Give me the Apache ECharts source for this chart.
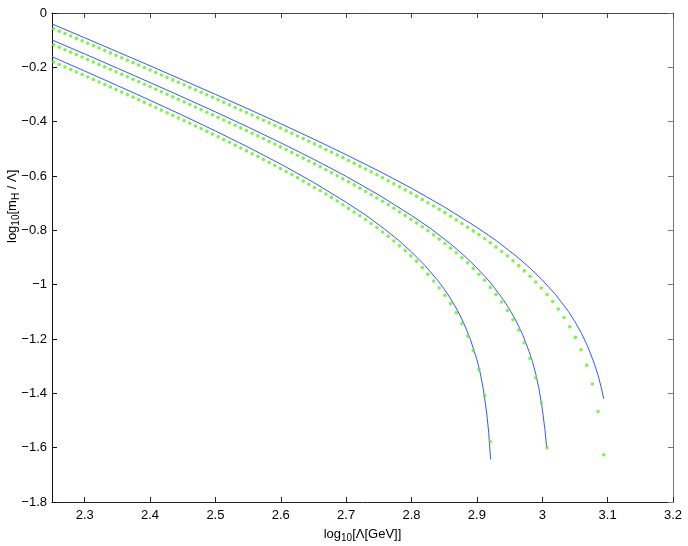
<!DOCTYPE html>
<html><head><meta charset="utf-8">
<script src="https://cdn.jsdelivr.net/npm/echarts@6/dist/echarts.min.js"></script>
<style>html,body{margin:0;padding:0;background:#fff}#c{width:688px;height:546px}</style>
</head><body><div id="c"></div>
<script>
// x positions (log10 Lambda) of the dotted (green) samples
const xs = [2.2526,2.2613,2.2699,2.2786,2.2873,2.2960,2.3046,2.3133,2.3220,2.3307,
2.3393,2.3480,2.3567,2.3654,2.3740,2.3827,2.3914,2.4001,2.4087,2.4174,
2.4261,2.4348,2.4434,2.4521,2.4608,2.4695,2.4781,2.4868,2.4955,2.5041,
2.5128,2.5215,2.5302,2.5388,2.5475,2.5562,2.5649,2.5735,2.5822,2.5909,
2.5996,2.6082,2.6169,2.6256,2.6343,2.6429,2.6516,2.6603,2.6690,2.6776,
2.6863,2.6950,2.7036,2.7123,2.7210,2.7297,2.7383,2.7470,2.7557,2.7644,
2.7730,2.7817,2.7904,2.7991,2.8077,2.8164,2.8251,2.8338,2.8424,2.8511,
2.8598,2.8684,2.8771,2.8858,2.8945,2.9031,2.9118,2.9205,2.9292,2.9379,
2.9466,2.9552,2.9639,2.9726,2.9813,2.9899,2.9986,3.0073,3.0160,3.0246,
3.0333,3.0420,3.0507,3.0593,3.0680,3.0767,3.0854,3.0940];

const green1 = [-0.0580,-0.0669,-0.0757,-0.0846,-0.0935,-0.1024,-0.1112,-0.1202,-0.1291,-0.1381,
-0.1469,-0.1559,-0.1649,-0.1739,-0.1828,-0.1918,-0.2008,-0.2099,-0.2189,-0.2280,
-0.2371,-0.2462,-0.2552,-0.2644,-0.2736,-0.2828,-0.2919,-0.3011,-0.3104,-0.3195,
-0.3289,-0.3382,-0.3476,-0.3569,-0.3662,-0.3757,-0.3853,-0.3947,-0.4043,-0.4139,
-0.4234,-0.4330,-0.4428,-0.4526,-0.4624,-0.4721,-0.4819,-0.4920,-0.5022,-0.5122,
-0.5224,-0.5322,-0.5427,-0.5532,-0.5638,-0.5744,-0.5848,-0.5954,-0.6064,-0.6176,
-0.6287,-0.6399,-0.6511,-0.6623,-0.6742,-0.6863,-0.6984,-0.7106,-0.7226,-0.7347,
-0.7483,-0.7616,-0.7751,-0.7886,-0.8021,-0.8158,-0.8308,-0.8457,-0.8617,-0.8777,
-0.8947,-0.9119,-0.9300,-0.9493,-0.9688,-0.9905,-1.0124,-1.0363,-1.0622,-1.0899,
-1.1208,-1.1551,-1.1941,-1.2399,-1.2963,-1.3659,-1.4670,-1.6260];

const green2 = [-0.1173,-0.1262,-0.1351,-0.1441,-0.1531,-0.1622,-0.1711,-0.1801,-0.1892,-0.1983,
-0.2073,-0.2165,-0.2256,-0.2347,-0.2438,-0.2531,-0.2623,-0.2715,-0.2806,-0.2899,
-0.2993,-0.3086,-0.3179,-0.3272,-0.3366,-0.3461,-0.3555,-0.3651,-0.3746,-0.3841,
-0.3936,-0.4034,-0.4132,-0.4229,-0.4327,-0.4425,-0.4523,-0.4624,-0.4725,-0.4826,
-0.4928,-0.5026,-0.5131,-0.5237,-0.5343,-0.5447,-0.5553,-0.5659,-0.5769,-0.5880,
-0.5992,-0.6104,-0.6215,-0.6327,-0.6448,-0.6569,-0.6689,-0.6810,-0.6932,-0.7055,
-0.7188,-0.7323,-0.7458,-0.7593,-0.7727,-0.7867,-0.8016,-0.8167,-0.8325,-0.8485,
-0.8656,-0.8829,-0.9011,-0.9204,-0.9401,-0.9618,-0.9837,-1.0100,-1.0360,-1.0640,
-1.0950,-1.1290,-1.1670,-1.2137,-1.2712,-1.3426,-1.4360,-1.6000];

const green3 = [-0.1807,-0.1898,-0.1988,-0.2079,-0.2172,-0.2264,-0.2355,-0.2447,-0.2539,-0.2632,
-0.2725,-0.2818,-0.2912,-0.3005,-0.3098,-0.3193,-0.3289,-0.3384,-0.3479,-0.3575,
-0.3670,-0.3767,-0.3864,-0.3962,-0.4060,-0.4158,-0.4256,-0.4357,-0.4458,-0.4559,
-0.4660,-0.4759,-0.4865,-0.4969,-0.5075,-0.5181,-0.5286,-0.5391,-0.5502,-0.5614,
-0.5726,-0.5837,-0.5949,-0.6061,-0.6182,-0.6302,-0.6423,-0.6545,-0.6666,-0.6788,
-0.6923,-0.7058,-0.7192,-0.7327,-0.7462,-0.7602,-0.7750,-0.7900,-0.8060,-0.8220,
-0.8391,-0.8565,-0.8748,-0.8941,-0.9135,-0.9370,-0.9617,-0.9864,-1.0121,-1.0390,
-1.0699,-1.1030,-1.1435,-1.1888,-1.2429,-1.3116,-1.4085,-1.5780];

// solid (blue) curves
const blue1X = [2.25,2.30,2.35,2.40,2.45,2.50,2.55,2.60,2.65,2.70,2.75,2.80,2.85,2.90,2.93,2.96,2.98,3.00,3.02,3.04,3.05,3.06,3.07,3.08,3.085,3.09,3.094];
const blue1Y = [-0.0403,-0.0913,-0.1427,-0.1944,-0.2467,-0.2995,-0.3531,-0.4076,-0.4637,-0.5215,-0.5816,-0.6451,-0.7136,-0.7891,-0.8385,-0.8946,-0.9362,-0.9828,-1.0353,-1.0987,-1.1361,-1.1791,-1.2300,-1.2934,-1.3306,-1.3763,-1.4199];
const blue2X = [2.25,2.30,2.35,2.40,2.45,2.50,2.55,2.60,2.65,2.70,2.75,2.80,2.83,2.86,2.88,2.90,2.92,2.94,2.95,2.96,2.97,2.98,2.985,2.99,2.995,3.000,3.004,3.0068];
const blue2Y = [-0.0991,-0.1508,-0.2031,-0.2559,-0.3095,-0.3640,-0.4200,-0.4778,-0.5379,-0.6014,-0.6698,-0.7453,-0.7945,-0.8505,-0.8920,-0.9385,-0.9899,-1.0539,-1.0911,-1.1337,-1.1842,-1.2469,-1.2833,-1.3281,-1.3833,-1.4560,-1.5325,-1.6000];
const blue3X = [2.25,2.30,2.35,2.40,2.45,2.50,2.55,2.60,2.65,2.70,2.73,2.76,2.78,2.80,2.82,2.84,2.85,2.86,2.87,2.88,2.89,2.90,2.905,2.91,2.915,2.918,2.921];
const blue3Y = [-0.1610,-0.2136,-0.2670,-0.3213,-0.3769,-0.4342,-0.4937,-0.5563,-0.6233,-0.6968,-0.7441,-0.7974,-0.8365,-0.8797,-0.9283,-0.9841,-1.0163,-1.0524,-1.0935,-1.1418,-1.2010,-1.2754,-1.3246,-1.3868,-1.4723,-1.5431,-1.6434];

// ticks
const xTicks = [2.3,2.4,2.5,2.6,2.7,2.8,2.9,3.0,3.1,3.2];
const xMin = 2.25, xMax = 3.2, yMin = -1.8, yMax = 0, yStep = 0.2;
const xTitle = 'log{s|10}[\u039b[GeV]]';
const yTitle = 'log{s|10}[m{s|H} / \u039b]';

const zip = (a, b) => b.map((v, i) => [a[i], v]);
const FONT = '"Liberation Sans", Arial, Helvetica, sans-serif';
const FS = 13;
const fmtY = v => { const r = Math.round(v * 10) / 10; return r === 0 ? '0' : (r < 0 ? '\u2212' : '') + Math.abs(r); };
const fmtX = v => String(Math.round(v * 10) / 10);
const richSub = {s: {fontSize: 10, fontFamily: FONT, color: '#000', padding: [8, 0, 0, 0]}};

const chart = echarts.init(document.getElementById('c'), null, {renderer: 'canvas'});
const lineS = (x, y) => ({type: 'line', data: zip(x, y), showSymbol: false, smooth: false,
  lineStyle: {color: '#3557ff', width: 1}, z: 2, silent: true, clip: true});
const dotS = (y) => ({type: 'scatter', data: zip(xs, y), symbol: 'circle', symbolSize: 3.6,
  itemStyle: {color: '#5cf21a'}, z: 3, silent: true});

chart.setOption({
  animation: false,
  backgroundColor: '#fff',
  grid: {left: 52, right: 15, top: 13, bottom: 44, containLabel: false, outerBoundsMode: 'none'},
  xAxis: [{
    type: 'value', min: xMin, max: xMax, position: 'bottom',
    axisLine: {onZero: false, lineStyle: {color: '#222', width: 1}},
    axisTick: {inside: true, length: 5, customValues: xTicks, lineStyle: {color: '#222'}},
    axisLabel: {customValues: xTicks, formatter: fmtX, color: '#000', fontSize: FS, fontFamily: FONT, margin: 7},
    splitLine: {show: false},
    name: xTitle, nameLocation: 'middle', nameGap: 23,
    nameTextStyle: {color: '#000', fontSize: FS, fontFamily: FONT, rich: richSub}
  }, {
    type: 'value', min: xMin, max: xMax, position: 'top',
    axisLine: {onZero: false, lineStyle: {color: '#444', width: 1}},
    axisTick: {inside: true, length: 5, customValues: xTicks, lineStyle: {color: '#444'}},
    axisLabel: {show: false}, splitLine: {show: false}
  }],
  yAxis: [{
    type: 'value', min: yMin, max: yMax, interval: yStep, position: 'left',
    axisLine: {show: true, onZero: false, lineStyle: {color: '#111', width: 1}},
    axisTick: {show: true, inside: true, length: 5, lineStyle: {color: '#111'}},
    axisLabel: {formatter: fmtY, color: '#000', fontSize: FS, fontFamily: FONT, margin: 5},
    splitLine: {show: false}
  }, {
    type: 'value', min: yMin, max: yMax, interval: yStep, position: 'right',
    axisLine: {show: true, onZero: false, lineStyle: {color: '#777', width: 1}},
    axisTick: {show: true, inside: true, length: 5, lineStyle: {color: '#777'}},
    axisLabel: {show: false}, splitLine: {show: false}
  }],
  graphic: [{
    type: 'text', x: 12, y: 243, rotation: Math.PI / 2, silent: true,
    style: {text: yTitle, fill: '#000', fontSize: FS, fontFamily: FONT,
      align: 'left', verticalAlign: 'middle', rich: richSub}
  }],
  series: [
    lineS(blue1X, blue1Y), lineS(blue2X, blue2Y), lineS(blue3X, blue3Y),
    dotS(green1), dotS(green2), dotS(green3)
  ]
});
</script>
</body></html>
